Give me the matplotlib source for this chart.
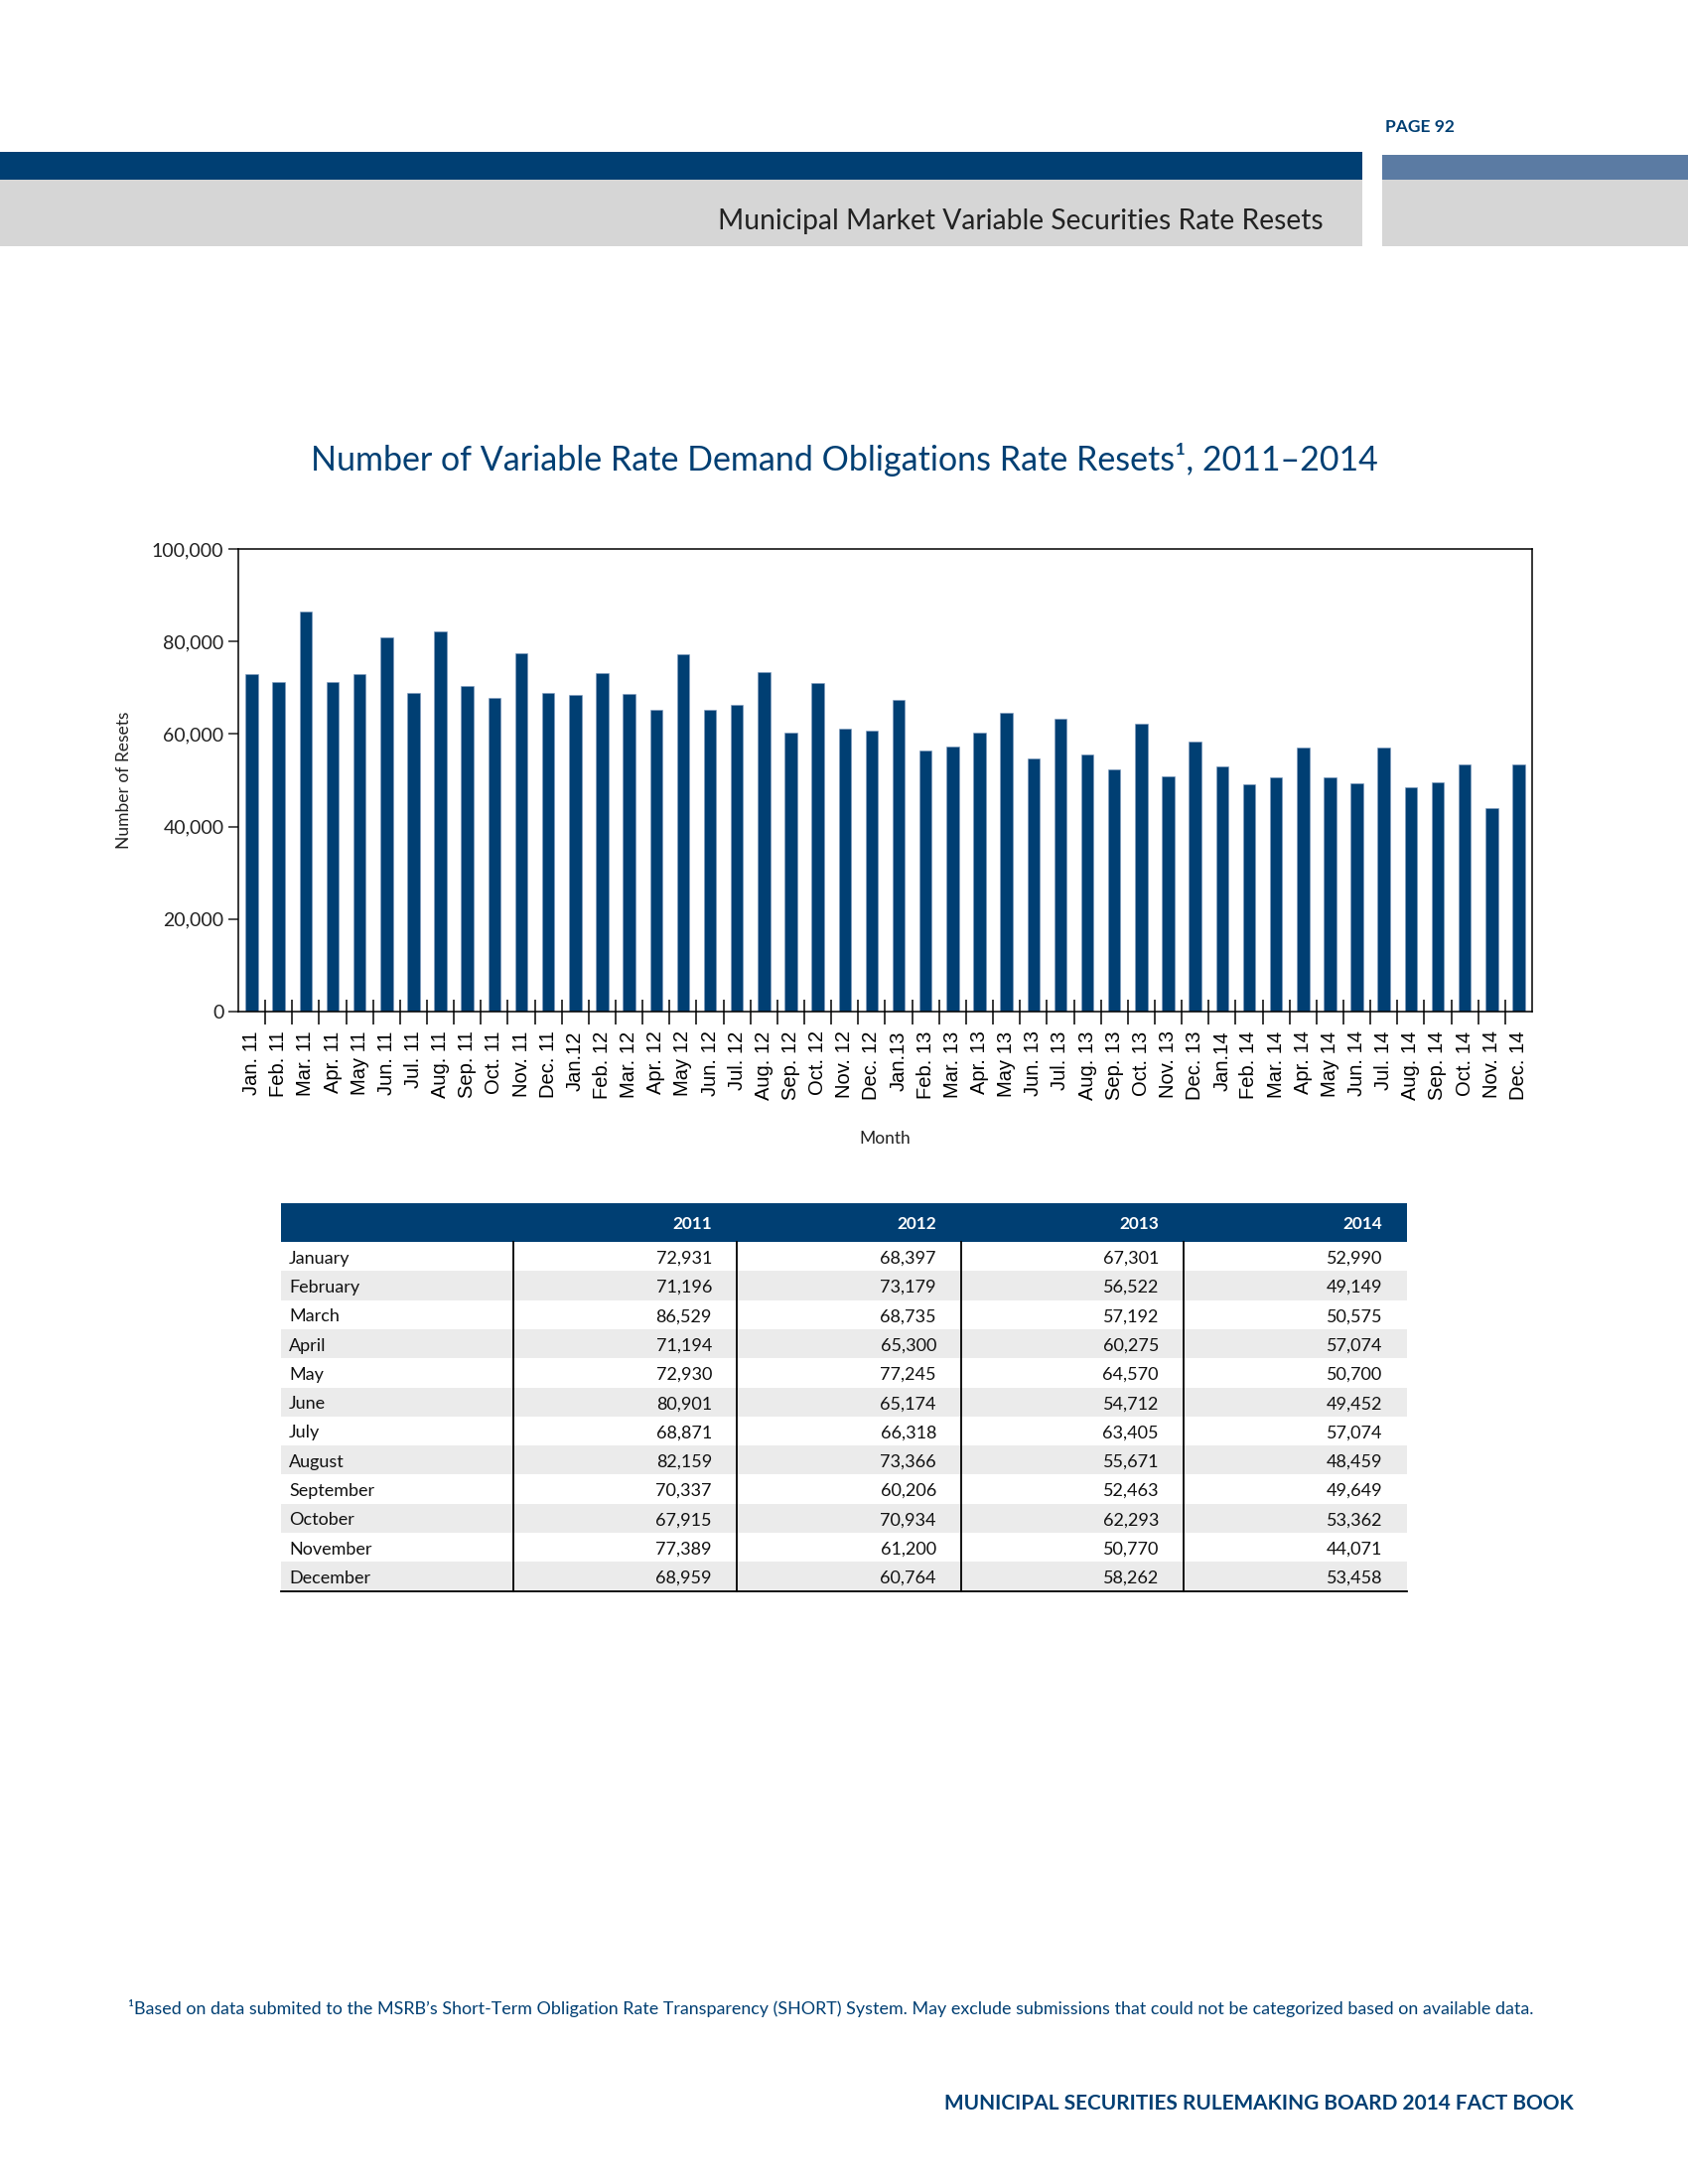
import matplotlib
matplotlib.use('Agg')
import matplotlib.pyplot as plt
from matplotlib.patches import Rectangle
from matplotlib.ticker import FuncFormatter, FixedLocator

# ---- data (from the table on the page) ----
years = ['2011', '2012', '2013', '2014']
months = ['January', 'February', 'March', 'April', 'May', 'June', 'July',
          'August', 'September', 'October', 'November', 'December']
resets_2011 = [72931, 71196, 86529, 71194, 72930, 80901, 68871, 82159, 70337, 67915, 77389, 68959]
resets_2012 = [68397, 73179, 68735, 65300, 77245, 65174, 66318, 73366, 60206, 70934, 61200, 60764]
resets_2013 = [67301, 56522, 57192, 60275, 64570, 54712, 63405, 55671, 52463, 62293, 50770, 58262]
resets_2014 = [52990, 49149, 50575, 57074, 50700, 49452, 57074, 48459, 49649, 53362, 44071, 53458]

month_abbr = ['Jan.', 'Feb.', 'Mar.', 'Apr.', 'May', 'Jun.', 'Jul.',
              'Aug.', 'Sep.', 'Oct.', 'Nov.', 'Dec.']
yy = ['11', '12', '13', '14']

BLUE = '#003f73'
LBLUE = '#5b7ba3'
GRAY = '#d6d6d6'
ROWGRAY = '#ebebeb'
FONT = ['Lato', 'DejaVu Sans']

all_values = resets_2011 + resets_2012 + resets_2013 + resets_2014
labels = []
for y in yy:
    for m in month_abbr:
        # January labels are printed without a space except for 2011
        if m == 'Jan.' and y != '11':
            labels.append(m + y)
        else:
            labels.append(m + ' ' + y)

fig = plt.figure(figsize=(17, 22), dpi=100)

# page decoration in pixel coordinates
bg = fig.add_axes([0, 0, 1, 1])
bg.set_xlim(0, 1700)
bg.set_ylim(2200, 0)
bg.axis('off')
bg.add_patch(Rectangle((0, 153), 1372, 28, color=BLUE, lw=0))
bg.add_patch(Rectangle((1392, 156), 308, 25, color=LBLUE, lw=0))
bg.add_patch(Rectangle((0, 181), 1372, 67, color=GRAY, lw=0))
bg.add_patch(Rectangle((1392, 181), 308, 67, color=GRAY, lw=0))
bg.text(1395, 128, 'PAGE 92', color=BLUE, fontsize=12.5, fontweight='bold',
        family=FONT, va='center', ha='left')
bg.text(1333, 223, 'Municipal Market Variable Securities Rate Resets', color='#222222',
        fontsize=20.3, family=FONT, va='center', ha='right')
bg.text(850, 463, 'Number of Variable Rate Demand Obligations Rate Resets¹, 2011–2014',
        color=BLUE, fontsize=24.5, family=FONT, va='center', ha='center')

# ---- bar chart ----
ax = fig.add_axes([240 / 1700, 1 - 1019 / 2200, 1303 / 1700, 466 / 2200])
x = list(range(len(all_values)))
ax.bar(x, all_values, width=0.46, color=BLUE, edgecolor='#7f9cc0', linewidth=0.4)
ax.set_xlim(-0.5, len(all_values) - 0.5)
ax.set_ylim(0, 100000)
ax.set_yticks([0, 20000, 40000, 60000, 80000, 100000])
ax.yaxis.set_major_formatter(FuncFormatter(lambda v, p: f'{int(v):,}'))
ax.tick_params(axis='y', direction='out', length=7, width=1.1, pad=3.5,
               labelsize=14, colors='#222222')
for t in ax.get_yticklabels():
    t.set_family(FONT)

ax.set_xticks(x)
ax.set_xticklabels(labels, rotation=90, fontsize=14.5, family=['Liberation Sans', 'DejaVu Sans'])
ax.tick_params(axis='x', which='major', length=0, pad=14)
ax.xaxis.set_minor_locator(FixedLocator([i + 0.5 for i in range(len(all_values) - 1)]))
ax.tick_params(axis='x', which='minor', direction='inout', length=18, width=1.1)
for s in ax.spines.values():
    s.set_linewidth(1.1)

ax.set_xlabel('Month', fontsize=12.5, family=FONT, color='#222222', labelpad=22)
ax.set_ylabel('Number of Resets', fontsize=12.5, family=FONT, color='#222222', labelpad=14)

# ---- data table ----
tbl_left, tbl_right = 283, 1417
col_edges = [283, 517, 742, 968, 1192, 1417]
head_top, head_bot = 1212, 1251
row_h = 29.3
columns = [resets_2011, resets_2012, resets_2013, resets_2014]

bg.add_patch(Rectangle((tbl_left, head_top), tbl_right - tbl_left, head_bot - head_top,
                       color=BLUE, lw=0))
for j, yr in enumerate(years):
    bg.text(col_edges[j + 2] - 25, (head_top + head_bot) / 2 + 1, yr, color='white',
            fontsize=12.4, fontweight='bold', family=FONT, ha='right', va='center')

for i, m in enumerate(months):
    top = head_bot + i * row_h
    if i % 2 == 1:
        bg.add_patch(Rectangle((tbl_left, top), tbl_right - tbl_left, row_h,
                               color=ROWGRAY, lw=0))
    cy = top + row_h / 2 + 2
    bg.text(tbl_left + 8, cy, m, fontsize=13, family=FONT, ha='left', va='center',
            color='#111111')
    for j, col in enumerate(columns):
        bg.text(col_edges[j + 2] - 25, cy, f'{col[i]:,}', fontsize=13, family=FONT,
                ha='right', va='center', color='#111111')

tbl_bot = head_bot + len(months) * row_h
for ce in col_edges[1:-1]:
    bg.plot([ce, ce], [head_bot, tbl_bot], color='black', lw=1.3)
bg.plot([tbl_left, tbl_right], [tbl_bot, tbl_bot], color='black', lw=1.3)

# ---- footnotes ----
bg.text(129, 2023, '¹Based on data submited to the MSRB’s Short-Term Obligation Rate Transparency '
        '(SHORT) System. May exclude submissions that could not be categorized based on available data.',
        color=BLUE, fontsize=12.9, family=FONT, ha='left', va='center')
bg.text(1585, 2119, 'MUNICIPAL SECURITIES RULEMAKING BOARD 2014 FACT BOOK', color=BLUE,
        fontsize=15, fontweight='bold', family=FONT, ha='right', va='center')

fig.savefig('out.png', dpi=100)
